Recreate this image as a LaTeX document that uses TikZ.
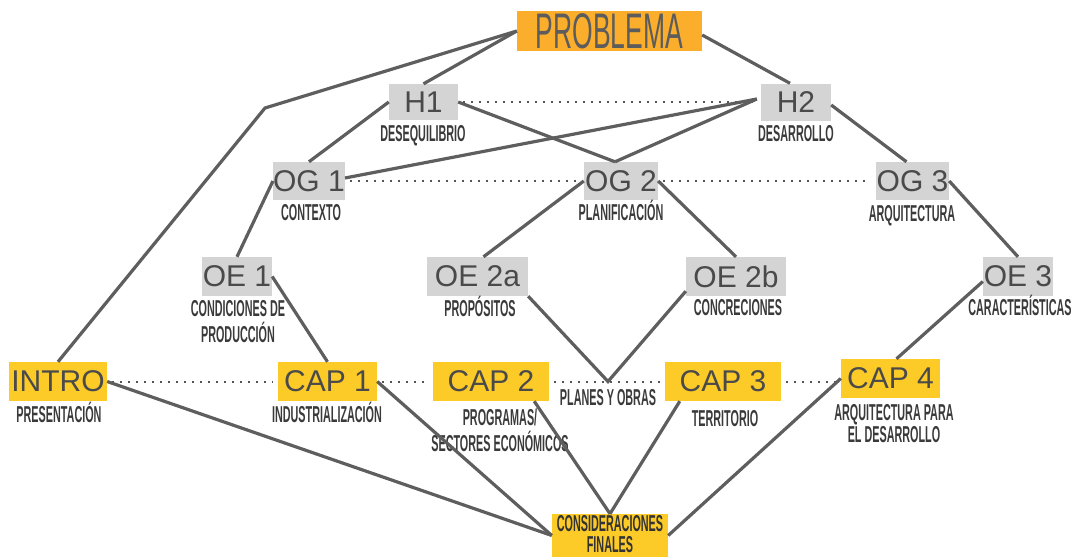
\documentclass[tikz,border=0pt]{standalone}
\usepackage{fontspec}
\setmainfont{Liberation Sans}
\usepackage{graphicx}
\definecolor{lineg}{HTML}{5E5E5E}
\definecolor{dotg}{HTML}{555555}
\definecolor{boxg}{HTML}{D4D4D4}
\definecolor{orng}{HTML}{FBAE2C}
\definecolor{yel}{HTML}{FDCB28}
\definecolor{txtg}{HTML}{4A4A4A}
\definecolor{lblg}{HTML}{3A3A3A}
\newcommand{\cnd}[1]{\scalebox{0.47}[1]{\begin{tabular}[t]{@{}c@{}}#1\end{tabular}}}
\tikzset{
  gbox/.style={fill=boxg, text=txtg, font=\fontsize{30}{30}\selectfont, inner sep=0pt},
  ybox/.style={fill=yel, text=txtg, font=\fontsize{30}{30}\selectfont, inner sep=0pt},
  lbl/.style={text=lblg, font=\fontsize{23}{21.5}\selectfont\bfseries, inner sep=0pt, anchor=base},
  conn/.style={draw=lineg, line width=3.2pt},
  dots/.style={draw=dotg, line width=2pt, dash pattern=on 2pt off 6pt, shorten <=5pt, shorten >=5pt},
}
\begin{document}
\begin{tikzpicture}[x=1pt,y=-1pt]
\useasboundingbox (0,0) rectangle (1077,557);
% boxes
\node[fill=orng, text=txtg!90!white, inner sep=0pt, minimum width=185pt, minimum height=40pt,
      font=\fontsize{50}{50}\selectfont] (P) at (609.5,31) {\scalebox{0.53}[1]{PROBLEMA}};
\node[gbox, minimum width=69pt, minimum height=36pt] (H1) at (423.5,102) {H1};
\node[gbox, minimum width=70pt, minimum height=37pt] (H2) at (796,102) {H2};
\node[gbox, minimum width=70pt, minimum height=38pt] (OG1) at (309,181) {OG 1};
\node[gbox, minimum width=74pt, minimum height=38pt] (OG2) at (621,181) {OG 2};
\node[gbox, minimum width=73pt, minimum height=38pt] (OG3) at (912.5,181) {OG 3};
\node[gbox, minimum width=70pt, minimum height=39pt] (OE1) at (237,276.5) {OE 1};
\node[gbox, minimum width=101pt, minimum height=39pt] (OE2a) at (477.5,276.5) {OE 2a};
\node[gbox, minimum width=100pt, minimum height=39pt] (OE2b) at (736,276.5) {OE 2b};
\node[gbox, minimum width=70pt, minimum height=39pt] (OE3) at (1018,276.5) {OE 3};
\node[ybox, minimum width=98pt, minimum height=39pt] (INTRO) at (58,381.5) {INTRO};
\node[ybox, minimum width=99pt, minimum height=39pt] (CAP1) at (327.5,381.5) {CAP 1};
\node[ybox, minimum width=116pt, minimum height=39pt] (CAP2) at (491,381.5) {CAP 2};
\node[ybox, minimum width=116pt, minimum height=39pt] (CAP3) at (723,381.5) {CAP 3};
\node[ybox, minimum width=99pt, minimum height=39pt] (CAP4) at (890.5,378.5) {CAP 4};
\node[fill=yel, inner sep=0pt, minimum width=116pt, minimum height=43pt] (CF) at (610,535.5) {};
% labels
\node[lbl] (lH1) at (423,141) {\cnd{DESEQUILIBRIO}};
\node[lbl] (lH2) at (796,141) {\cnd{DESARROLLO}};
\node[lbl] (lOG1) at (311,220) {\cnd{CONTEXTO}};
\node[lbl] (lOG2) at (621,220) {\cnd{PLANIFICACIÓN}};
\node[lbl] (lOG3) at (912,221) {\cnd{ARQUITECTURA}};
\node[lbl] (lOE1) at (238,316) {\cnd{CONDICIONES DE\\PRODUCCIÓN}};
\node[lbl] (lOE2a) at (480,316) {\cnd{PROPÓSITOS}};
\node[lbl] (lOE2b) at (738,315) {\cnd{CONCRECIONES}};
\node[lbl] (lOE3) at (1020,315) {\cnd{CARACTERÍSTICAS}};
\node[lbl] (lINTRO) at (59,422) {\cnd{PRESENTACIÓN}};
\node[lbl] (lCAP1) at (327,422) {\cnd{INDUSTRIALIZACIÓN}};
\node[lbl] (lCAP2) at (500,425) {\cnd{PROGRAMAS/\\SECTORES ECONÓMICOS}};
\node[lbl] (lPO) at (608,405) {\cnd{PLANES Y OBRAS}};
\node[lbl] (lCAP3) at (725,426) {\cnd{TERRITORIO}};
\node[lbl] (lCAP4) at (894,420) {\cnd{ARQUITECTURA PARA\\EL DESARROLLO}};
\node[lbl, text=black!80, font=\fontsize{23}{19.5}\selectfont\bfseries] (lCF) at (610,531) {\cnd{CONSIDERACIONES\\FINALES}};
% helper coordinates
\coordinate (bendL) at (265,108);
\coordinate (V) at (608,381.5);
% dotted links
\draw[dots] (H1.east) -- (H2.west);
\draw[dots] (OG1.east) -- (OG2.west);
\draw[dots] (OG2.east) -- (OG3.west);
\draw[dots] (INTRO.east) -- (CAP1.west);
\draw[dots] (CAP1.east) -- (CAP2.west);
\draw[dots] (CAP2.east) -- (CAP3.west);
\draw[dots] (CAP3.east) -- (CAP3.east -| CAP4.west);
% solid links
\draw[conn] (P.west) -- (bendL) -- (INTRO.north);
\draw[conn] (P.west) -- (H1.north);
\draw[conn] ([yshift=-4pt]P.east) -- ([xshift=-6pt]H2.north);
\draw[conn] (H1.west) -- (OG1.north);
\draw[conn] (H1.east) -- ([xshift=-6pt]OG2.north);
\draw[conn] ([xshift=-4pt,yshift=3pt]H2.west) -- ([yshift=3pt]OG1.east);
\draw[conn] ([xshift=-4pt,yshift=3pt]H2.west) -- ([xshift=-6pt]OG2.north);
\draw[conn] ([yshift=-3pt]H2.east) -- ([xshift=-6pt]OG3.north);
\draw[conn] (OG1.west) -- (OE1.north);
\draw[conn] (OG2.west) -- ([xshift=6pt]OE2a.north);
\draw[conn] (OG2.east) -- (OE2b.north);
\draw[conn] (OG3.east) -- (OE3.north);
\draw[conn] (OE1.east) -- (CAP1.north);
\draw[conn] (OE2a.south east) -- (V) -- ([yshift=5pt]OE2b.south west);
\draw[conn] ([yshift=-5pt]OE3.west) -- ([xshift=6pt]CAP4.north);
\draw[conn] (INTRO.east) -- (CF.west);
\draw[conn] (CAP1.east) -- (CF.west);
\draw[conn] ([xshift=-15pt]CAP2.south east) -- (CF.north);
\draw[conn] ([xshift=15pt]CAP3.south west) -- (CF.north);
\draw[conn] (CAP4.west) -- (CF.east);
\end{tikzpicture}
\end{document}
